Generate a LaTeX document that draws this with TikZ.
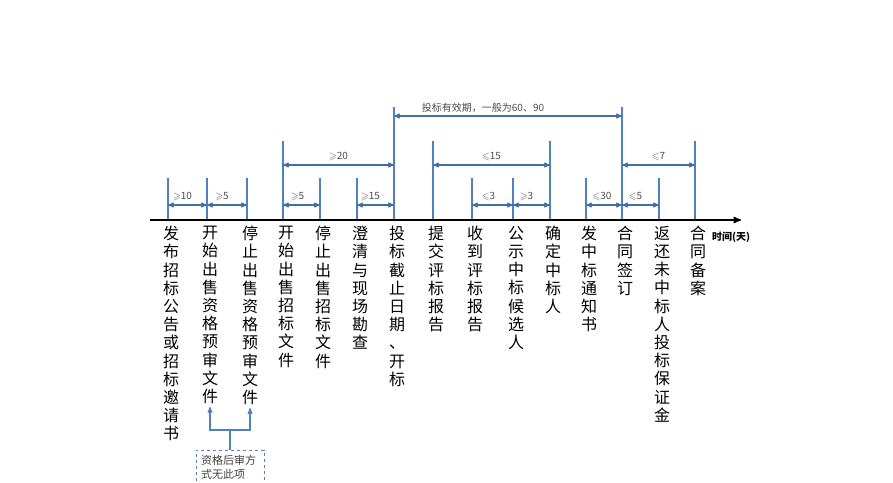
\documentclass[tikz,border=0pt]{standalone}
\usepackage{fontspec}
\usepackage{amssymb}
\setmainfont{Noto Sans CJK SC}
\usetikzlibrary{arrows}
\definecolor{tickblue}{RGB}{79,129,189}

\begin{document}
\begin{tikzpicture}[x=1pt,y=-1pt,>=stealth',
	tick/.style={draw=tickblue,line width=1.1pt},
	dim/.style={<->,draw=tickblue!85!black,line width=1.1pt},
	dim label/.style={font=\fontsize{10}{12}\selectfont,text=black!70,inner sep=1pt},
	event/.style={anchor=north,align=center,inner sep=0pt,
		font=\fontsize{16}{18.2}\selectfont},
	note/.style={draw=tickblue!70!gray,dashed,anchor=north,align=left,
		font=\fontsize{11}{14}\selectfont,text=black!75,inner sep=5pt,
		text width=58pt},
	unit/.style={font=\bfseries\fontsize{10}{12}\selectfont}
	]
	
	\useasboundingbox (0,0) rectangle (893,482);
	\clip (0,0) rectangle (893,482);
	
	% levels of the dimension lines
	\coordinate (lo) at (0,205);
	\coordinate (mid) at (0,165);
	\coordinate (hi) at (0,116);
	
	% ticks on the time axis
	\foreach \n/\x/\top in {1/168/178, 2/207/178, 3/247/178, 4/283/141,
		5/320/178, 6/357/178, 7/394/107, 8/433/141, 9/472/178, 10/513/178,
		11/550/141, 12/586/178, 13/622/107, 14/659/178, 15/695/141}{
		\coordinate (t\n) at (\x,220);
		\draw[tick] (t\n) -- (\x,\top);
	}
	
	\coordinate (ax0) at (150,220);
	\coordinate (ax1) at (741,220);
	\draw[->,line width=1.6pt] (ax0) -- (ax1);
	\node[unit,anchor=west,inner sep=0pt] (U) at ([xshift=-29pt,yshift=-17pt]ax1) {时间(天)};
	
	% events
	\node[event] (e1) at ([xshift=3pt,yshift=-6pt]t1) {发\\布\\招\\标\\公\\告\\或\\招\\标\\邀\\请\\书};
	\node[event] (e2) at ([xshift=3pt,yshift=-6pt]t2) {开\\始\\出\\售\\资\\格\\预\\审\\文\\件};
	\node[event] (e3) at ([xshift=3pt,yshift=-6pt]t3) {停\\止\\出\\售\\资\\格\\预\\审\\文\\件};
	\node[event] (e4) at ([xshift=3pt,yshift=-6pt]t4) {开\\始\\出\\售\\招\\标\\文\\件};
	\node[event] (e5) at ([xshift=3pt,yshift=-6pt]t5) {停\\止\\出\\售\\招\\标\\文\\件};
	\node[event] (e6) at ([xshift=3pt,yshift=-6pt]t6) {澄\\清\\与\\现\\场\\勘\\查};
	\node[event] (e7) at ([xshift=3pt,yshift=-6pt]t7) {投\\标\\截\\止\\日\\期\\、\\开\\标};
	\node[event] (e8) at ([xshift=3pt,yshift=-6pt]t8) {提\\交\\评\\标\\报\\告};
	\node[event] (e9) at ([xshift=3pt,yshift=-6pt]t9) {收\\到\\评\\标\\报\\告};
	\node[event] (e10) at ([xshift=3pt,yshift=-6pt]t10) {公\\示\\中\\标\\候\\选\\人};
	\node[event] (e11) at ([xshift=3pt,yshift=-6pt]t11) {确\\定\\中\\标\\人};
	\node[event] (e12) at ([xshift=3pt,yshift=-6pt]t12) {发\\中\\标\\通\\知\\书};
	\node[event] (e13) at ([xshift=3pt,yshift=-6pt]t13) {合\\同\\签\\订};
	\node[event] (e14) at ([xshift=3pt,yshift=-6pt]t14) {返\\还\\未\\中\\标\\人\\投\\标\\保\\证\\金};
	\node[event] (e15) at ([xshift=3pt,yshift=-6pt]t15) {合\\同\\备\\案};
	
	% durations
	\draw[dim] (t1 |- lo) -- node[dim label,above=3pt,xshift=-5pt] {$\geqslant$10} (t2 |- lo);
	\draw[dim] (t2 |- lo) -- node[dim label,above=3pt,xshift=-5pt] {$\geqslant$5} (t3 |- lo);
	\draw[dim] (t4 |- lo) -- node[dim label,above=3pt,xshift=-4pt] {$\geqslant$5} (t5 |- lo);
	\draw[dim] (t6 |- lo) -- node[dim label,above=3pt,xshift=-5pt] {$\geqslant$15} (t7 |- lo);
	\draw[dim] (t9 |- lo) -- node[dim label,above=3pt,xshift=-4pt] {$\leqslant$3} (t10 |- lo);
	\draw[dim] (t10 |- lo) -- node[dim label,above=3pt,xshift=-5pt] {$\geqslant$3} (t11 |- lo);
	\draw[dim] (t12 |- lo) -- node[dim label,above=3pt,xshift=-2pt] {$\leqslant$30} (t13 |- lo);
	\draw[dim] (t13 |- lo) -- node[dim label,above=3pt,xshift=-5pt] {$\leqslant$5} (t14 |- lo);
	
	\draw[dim] (t4 |- mid) -- node[dim label,above=3pt] {$\geqslant$20} (t7 |- mid);
	\draw[dim] (t8 |- mid) -- node[dim label,above=3pt] {$\leqslant$15} (t11 |- mid);
	\draw[dim] (t13 |- mid) -- node[dim label,above=3pt] {$\leqslant$7} (t15 |- mid);
	
	\draw[dim] (t7 |- hi) -- node[dim label,above=2pt,xshift=-25pt] {投标有效期，一般为60、90} (t13 |- hi);
	
	% prequalification note
	\node[note] (N) at (230,450) {资格后审方\\式无此项};
	\draw[tick] (N.north) -- ++(0,-20) coordinate (fork);
	\draw[tick,->] (fork) -| ([yshift=-3pt]e2.south);
	\draw[tick,->] (fork) -| ([yshift=-3pt]e3.south);
	
\end{tikzpicture}
\end{document}
